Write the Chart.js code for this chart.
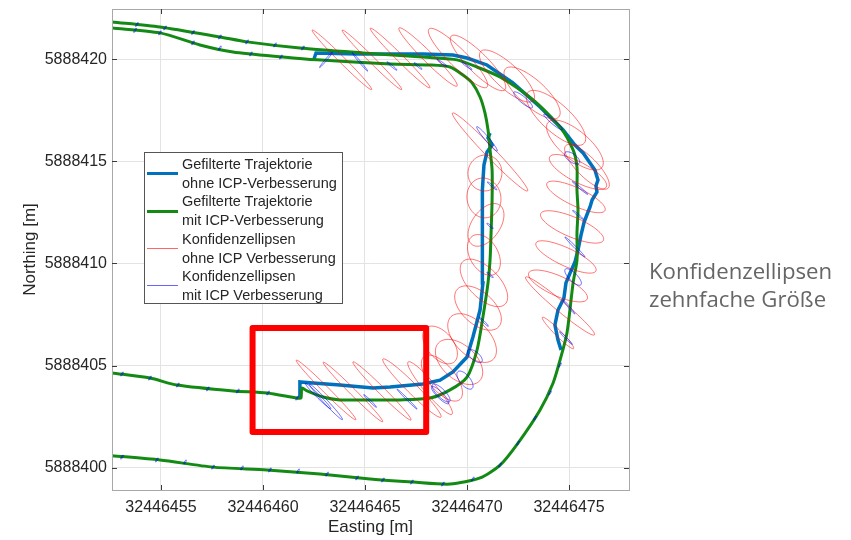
<!DOCTYPE html>
<html>
<head>
<meta charset="utf-8">
<script src="https://cdn.jsdelivr.net/npm/chart.js@4.4.0/dist/chart.umd.min.js"></script>
<style>
  body { margin: 0; background: #fff; }
  #wrap { position: relative; width: 851px; height: 540px; }
  #legend {
    position: absolute; left: 144px; top: 152px; width: 199px; height: 152px;
    box-sizing: border-box; border: 1px solid #555; background: #fff;
    padding-top: 2px;
    font: 14.5px 'Liberation Sans', Arial, sans-serif; line-height: 18.7px; color: #262626;
  }
  #legend .item { position: relative; padding-left: 37px; white-space: nowrap; }
  #legend .swatch { position: absolute; left: 2px; width: 31px; top: 50%; }
  #note {
    position: absolute; left: 649px; top: 257px;
    font: 22.2px 'Open Sans', sans-serif; line-height: 28px; color: #666;
  }
</style>
</head>
<body>
<div id="wrap">
  <canvas id="chart" width="851" height="540"></canvas>
  <div id="legend">
    <div class="item"><span class="swatch" style="height:3px;margin-top:-1.5px;background:#0072bd"></span>Gefilterte Trajektorie<br>ohne ICP-Verbesserung</div>
    <div class="item"><span class="swatch" style="height:3px;margin-top:-1.5px;background:#138a13"></span>Gefilterte Trajektorie<br>mit ICP-Verbesserung</div>
    <div class="item"><span class="swatch" style="height:1px;margin-top:-0.5px;background:rgba(255,0,0,0.6)"></span>Konfidenzellipsen<br>ohne ICP Verbesserung</div>
    <div class="item"><span class="swatch" style="height:1px;margin-top:-0.5px;background:rgba(0,0,255,0.6)"></span>Konfidenzellipsen<br>mit ICP Verbesserung</div>
  </div>
  <div id="note">Konfidenzellipsen<br>zehnfache Größe</div>
</div>
<script>
// all coordinates are metres relative to these bases
const E0 = 32446450;
const N0 = 5888400;

const xTickValues = [32446455, 32446460, 32446465, 32446470, 32446475];
const yTickValues = [5888400, 5888405, 5888410, 5888415, 5888420];

// trajectory with ICP, outer pass (top -> right side -> bottom)
const greenOuterE = [2.60, 4.95, 7.89, 9.22, 11.81, 14.90, 18.19, 19.51, 20.49, 21.62, 23.24, 24.56, 25.20, 25.39, 25.39,
  25.44, 25.39, 25.39, 25.20, 24.90, 24.56, 24.22, 23.58, 22.50, 21.62, 20.64, 19.17, 17.35, 15.25, 12.79, 10.20, 7.55, 4.95, 2.60];
const greenOuterN = [21.83, 21.58, 21.09, 20.85, 20.55, 20.31, 20.08, 19.97, 19.62, 19.13, 18.01, 16.68, 15.56, 14.73, 13.60,
  12.62, 11.49, 10.17, 9.05, 6.60, 5.27, 4.15, 2.83, 1.21, 0.13, -0.50, -0.80, -0.70, -0.55, -0.31, -0.11, 0.03, 0.38, 0.59];

// trajectory with ICP, inner pass (top -> inner side -> middle)
const greenInnerE = [2.60, 4.95, 6.91, 8.53, 10.98, 12.65, 16.23, 18.19, 19.17, 19.80, 20.25, 20.64, 20.88, 21.03, 21.13,
  21.23, 21.23, 21.18, 21.13, 21.03, 20.78, 20.49, 20.00, 19.17, 18.19, 16.72, 15.10, 13.77, 12.94, 12.16, 11.91, 11.86,
  11.67, 10.20, 8.53, 5.78, 4.46, 2.60];
const greenInnerN = [21.53, 21.29, 20.70, 20.36, 20.11, 19.97, 19.77, 19.72, 19.62, 19.23, 18.84, 18.15, 17.37, 16.54, 15.56,
  14.58, 13.11, 11.49, 10.17, 9.05, 7.38, 5.76, 4.44, 3.81, 3.41, 3.32, 3.32, 3.32, 3.46, 3.76, 3.90, 3.41,
  3.41, 3.66, 3.76, 4.05, 4.39, 4.64];

// trajectory without ICP, top and outer side
const blueTopE = [12.50, 12.60, 14.61, 17.84, 19.31, 20.00, 20.98, 22.25, 23.58, 24.71, 25.29, 25.69, 26.03, 26.27, 26.42,
  26.32, 26.37, 26.13, 26.03, 25.93, 25.74, 25.59, 25.44, 25.29, 25.05, 24.85, 24.75, 24.46, 24.31, 24.46, 24.61];
const blueTopN = [20.01, 20.31, 20.26, 20.26, 20.21, 20.06, 19.72, 18.84, 17.66, 16.54, 15.80, 15.41, 14.92, 14.58, 14.09,
  13.80, 13.50, 13.11, 12.77, 12.52, 12.03, 11.40, 10.66, 10.07, 9.53, 9.05, 8.31, 7.72, 6.99, 6.25, 5.76];

// trajectory without ICP, middle and inner side
const blueInnerE = [11.81, 11.81, 12.45, 13.77, 15.39, 16.23, 17.84, 18.68, 19.31, 20.00, 20.29, 20.64, 20.78, 20.78, 20.74,
  20.74, 20.83, 20.98, 21.23, 21.03, 21.13];
const blueInnerN = [3.41, 4.20, 4.15, 4.05, 3.90, 3.95, 4.10, 4.29, 4.69, 5.42, 6.40, 7.72, 9.05, 10.66, 12.13,
  13.60, 14.82, 15.46, 15.80, 16.15, 16.39];

// confidence ellipses: [easting, northing, semi-major, semi-minor, angle deg]
const redEllipses = [
  [13.87, 19.97, 2.06, 0.15, -45], [15.34, 19.97, 2.06, 0.15, -45], [16.72, 20.06, 2.06, 0.17, -45],
  [18.09, 20.11, 2.01, 0.25, -45], [19.56, 20.06, 2.01, 0.44, -45], [20.54, 19.82, 1.86, 0.49, -45],
  [21.96, 19.18, 1.76, 0.59, -43], [23.19, 18.35, 1.76, 0.64, -42], [24.36, 17.13, 1.86, 0.69, -42],
  [25.29, 15.80, 1.72, 0.69, -40], [25.88, 14.73, 1.47, 0.49, -45], [25.44, 14.48, 1.57, 0.49, -28],
  [25.34, 13.26, 1.57, 0.44, -25], [25.15, 11.79, 1.67, 0.49, -23], [24.85, 10.32, 1.62, 0.44, -25],
  [24.46, 8.90, 1.57, 0.49, -24], [24.56, 7.92, 2.20, 0.25, -40], [24.46, 6.60, 1.08, 0.15, -45],
  [21.13, 15.46, 2.65, 0.25, -46], [20.88, 14.43, 0.88, 0.83, 80], [20.83, 13.21, 0.98, 0.83, -80],
  [20.93, 11.89, 1.18, 0.69, 55], [20.83, 10.42, 1.08, 0.69, -60], [20.83, 9.05, 1.47, 0.74, -45],
  [20.54, 7.82, 1.37, 0.78, -42], [20.25, 6.35, 1.47, 0.83, -45], [19.61, 5.18, 1.37, 0.83, -42],
  [18.77, 4.39, 1.37, 0.64, -50], [18.19, 3.90, 1.67, 0.29, -50], [18.68, 6.01, 1.08, 0.64, -50],
  [13.09, 3.81, 2.06, 0.15, -45], [14.41, 3.71, 2.06, 0.15, -45], [15.83, 3.76, 2.01, 0.17, -45],
  [17.30, 3.90, 2.01, 0.25, -45]
];

const blueEllipses = [
  [13.09, 19.97, 0.49, 0.04, 50], [14.75, 19.87, 0.59, 0.04, -50], [16.32, 19.67, 0.32, 0.04, -40],
  [17.60, 19.67, 0.25, 0.04, -40], [18.77, 19.82, 0.30, 0.04, -35], [20.00, 19.67, 0.30, 0.04, -35],
  [22.75, 18.01, 0.59, 0.15, -40], [24.22, 16.93, 0.59, 0.10, -40], [25.15, 15.17, 0.44, 0.20, -35],
  [25.54, 13.70, 0.49, 0.04, -40], [25.44, 12.38, 0.34, 0.04, -40], [25.29, 10.81, 0.69, 0.05, -45],
  [25.20, 9.34, 0.54, 0.20, -45], [25.00, 7.87, 0.44, 0.04, -50], [24.85, 6.35, 0.44, 0.04, -45],
  [20.98, 16.10, 0.78, 0.10, -50], [21.23, 13.80, 0.30, 0.04, -40], [21.13, 11.84, 0.20, 0.04, -40],
  [21.13, 9.44, 0.20, 0.04, -40], [20.83, 7.14, 0.30, 0.04, -45], [20.39, 5.47, 0.44, 0.20, -40],
  [19.90, 4.29, 0.54, 0.25, -50], [18.73, 3.66, 0.59, 0.20, -45], [13.09, 3.22, 1.18, 0.10, -47],
  [12.70, 3.51, 0.88, 0.08, -45], [15.25, 3.27, 0.44, 0.04, -45], [17.06, 3.36, 0.69, 0.04, -45],
  [18.68, 3.56, 0.59, 0.15, -45],
  // tiny ellipses along the ICP trajectory
  [3.82, 21.70, 0.12, 0.03, 60], [5.20, 21.53, 0.12, 0.03, 60], [6.57, 21.31, 0.12, 0.03, 60],
  [7.89, 21.09, 0.12, 0.03, 60], [9.22, 20.85, 0.12, 0.03, 60], [10.59, 20.70, 0.12, 0.03, 60],
  [11.96, 20.55, 0.12, 0.03, 60], [3.73, 21.41, 0.12, 0.03, 60], [4.95, 21.29, 0.12, 0.03, 60],
  [6.57, 20.80, 0.12, 0.03, 60], [7.89, 20.55, 0.12, 0.03, 60], [9.41, 20.26, 0.12, 0.03, 60],
  [10.88, 20.11, 0.12, 0.03, 60], [3.09, 0.52, 0.12, 0.03, 60], [4.80, 0.38, 0.12, 0.03, 60],
  [6.18, 0.28, 0.12, 0.03, 60], [7.55, 0.03, 0.12, 0.03, 60], [8.97, -0.01, 0.12, 0.03, 60],
  [10.34, -0.11, 0.12, 0.03, 60], [11.72, -0.16, 0.12, 0.03, 60], [13.14, -0.31, 0.12, 0.03, 60],
  [14.61, -0.50, 0.12, 0.03, 60], [15.88, -0.60, 0.12, 0.03, 60], [17.30, -0.70, 0.12, 0.03, 60],
  [18.82, -0.80, 0.12, 0.03, 60], [20.29, -0.55, 0.12, 0.03, 60], [21.62, 0.13, 0.12, 0.03, 60],
  [22.50, 1.21, 0.12, 0.03, 60], [23.33, 2.43, 0.12, 0.03, 60], [24.07, 3.66, 0.12, 0.03, 60],
  [24.56, 5.03, 0.12, 0.03, 60], [3.09, 4.59, 0.12, 0.03, 60], [4.46, 4.39, 0.12, 0.03, 60],
  [5.83, 4.05, 0.12, 0.03, 60], [7.30, 3.86, 0.12, 0.03, 60], [8.77, 3.76, 0.12, 0.03, 60],
  [10.25, 3.66, 0.12, 0.03, 60], [11.67, 3.41, 0.12, 0.03, 60]
];

// red highlight box (metres)
const highlightE = [9.49, 18.00];
const highlightN = [1.75, 6.84];

const FONT = "'Liberation Sans', Arial, Helvetica, sans-serif";
Chart.defaults.font.family = FONT;

const toPoints = (es, ns) => es.map((e, i) => ({ x: E0 + e, y: N0 + ns[i] }));

function drawEllipses(ctx, x, y, list, color) {
  ctx.strokeStyle = color;
  ctx.lineWidth = 1;
  list.forEach(([e, n, a, b, ang]) => {
    const r = ang * Math.PI / 180;
    ctx.beginPath();
    for (let i = 0; i <= 72; i++) {
      const t = i / 72 * 2 * Math.PI;
      const de = a * Math.cos(t) * Math.cos(r) - b * Math.sin(t) * Math.sin(r);
      const dn = a * Math.cos(t) * Math.sin(r) + b * Math.sin(t) * Math.cos(r);
      const px = x.getPixelForValue(E0 + e + de);
      const py = y.getPixelForValue(N0 + n + dn);
      if (i === 0) ctx.moveTo(px, py); else ctx.lineTo(px, py);
    }
    ctx.closePath();
    ctx.stroke();
  });
}

const ellipsePlugin = {
  id: 'ellipses',
  afterDatasetsDraw(chart) {
    const { ctx, chartArea: ca, scales: { x, y } } = chart;
    ctx.save();
    ctx.beginPath();
    ctx.rect(ca.left, ca.top, ca.right - ca.left, ca.bottom - ca.top);
    ctx.clip();
    drawEllipses(ctx, x, y, redEllipses, 'rgba(255,0,0,0.55)');
    drawEllipses(ctx, x, y, blueEllipses, 'rgba(0,0,255,0.6)');
    ctx.restore();
  }
};

// box round the axes, inward ticks, and the red highlight
const framePlugin = {
  id: 'frame',
  afterDraw(chart) {
    const { ctx, chartArea: ca, scales: { x, y } } = chart;
    ctx.save();
    ctx.strokeStyle = '#a8a8a8';
    ctx.lineWidth = 1;
    ctx.strokeRect(Math.round(ca.left) + 0.5, Math.round(ca.top) + 0.5,
      Math.round(ca.right - ca.left), Math.round(ca.bottom - ca.top));
    ctx.strokeStyle = '#3a3a3a';
    ctx.beginPath();
    xTickValues.forEach(v => {
      const px = Math.round(x.getPixelForValue(v)) + 0.5;
      ctx.moveTo(px, ca.bottom); ctx.lineTo(px, ca.bottom - 5);
      ctx.moveTo(px, ca.top); ctx.lineTo(px, ca.top + 5);
    });
    yTickValues.forEach(v => {
      const py = Math.round(y.getPixelForValue(v)) + 0.5;
      ctx.moveTo(ca.left, py); ctx.lineTo(ca.left + 5, py);
      ctx.moveTo(ca.right, py); ctx.lineTo(ca.right - 5, py);
    });
    ctx.stroke();

    const l = x.getPixelForValue(E0 + highlightE[0]);
    const r = x.getPixelForValue(E0 + highlightE[1]);
    const t = y.getPixelForValue(N0 + highlightN[1]);
    const b = y.getPixelForValue(N0 + highlightN[0]);
    ctx.strokeStyle = '#ff0000';
    ctx.lineWidth = 6;
    ctx.lineJoin = 'round';
    ctx.strokeRect(l, t, r - l, b - t);
    ctx.restore();
  }
};

const lineStyle = (color, width, tension) => ({
  showLine: true, pointRadius: 0, borderColor: color, backgroundColor: color,
  borderWidth: width, tension: tension, fill: false
});

// fixed axis boxes so the plot area lands where the figure has it
const fixX = s => { s.height = 50; s.paddingLeft = 0; s.paddingRight = 0; };
const fixY = s => { s.width = 112; s.paddingTop = 0; s.paddingBottom = 0; };

new Chart(document.getElementById('chart'), {
  type: 'scatter',
  data: {
    datasets: [
      { label: 'Gefilterte Trajektorie mit ICP-Verbesserung', data: toPoints(greenOuterE, greenOuterN), ...lineStyle('#138a13', 3, 0.25) },
      { label: 'Gefilterte Trajektorie mit ICP-Verbesserung', data: toPoints(greenInnerE, greenInnerN), ...lineStyle('#138a13', 3, 0.25) },
      { label: 'Gefilterte Trajektorie ohne ICP-Verbesserung', data: toPoints(blueTopE, blueTopN), ...lineStyle('#0072bd', 3.5, 0) },
      { label: 'Gefilterte Trajektorie ohne ICP-Verbesserung', data: toPoints(blueInnerE, blueInnerN), ...lineStyle('#0072bd', 3.5, 0) }
    ]
  },
  options: {
    responsive: false,
    animation: false,
    devicePixelRatio: 1,
    layout: { padding: { top: 9, right: 222, left: 0, bottom: 0 } },
    plugins: { legend: { display: false }, tooltip: { enabled: false } },
    scales: {
      x: {
        type: 'linear',
        min: E0 + 2.6,
        max: E0 + 27.94,
        afterFit: fixX,
        afterBuildTicks: s => { s.ticks = xTickValues.map(v => ({ value: v })); },
        ticks: { callback: v => String(v), color: '#262626', font: { size: 16 }, padding: 8, maxRotation: 0, autoSkip: false },
        grid: { color: '#e3e3e3', drawTicks: false },
        border: { display: false },
        title: { display: true, text: 'Easting [m]', color: '#262626', font: { size: 17 }, padding: { top: 0, bottom: 2 } }
      },
      y: {
        type: 'linear',
        min: N0 - 1.09,
        max: N0 + 22.46,
        afterFit: fixY,
        afterBuildTicks: s => { s.ticks = yTickValues.map(v => ({ value: v })); },
        ticks: { callback: v => String(v), color: '#262626', font: { size: 16 }, padding: 5, autoSkip: false },
        grid: { color: '#e3e3e3', drawTicks: false },
        border: { display: false },
        title: { display: true, text: 'Northing [m]', color: '#262626', font: { size: 17 }, padding: { top: 20, bottom: 0 } }
      }
    }
  },
  plugins: [ellipsePlugin, framePlugin]
});
</script>
</body>
</html>
